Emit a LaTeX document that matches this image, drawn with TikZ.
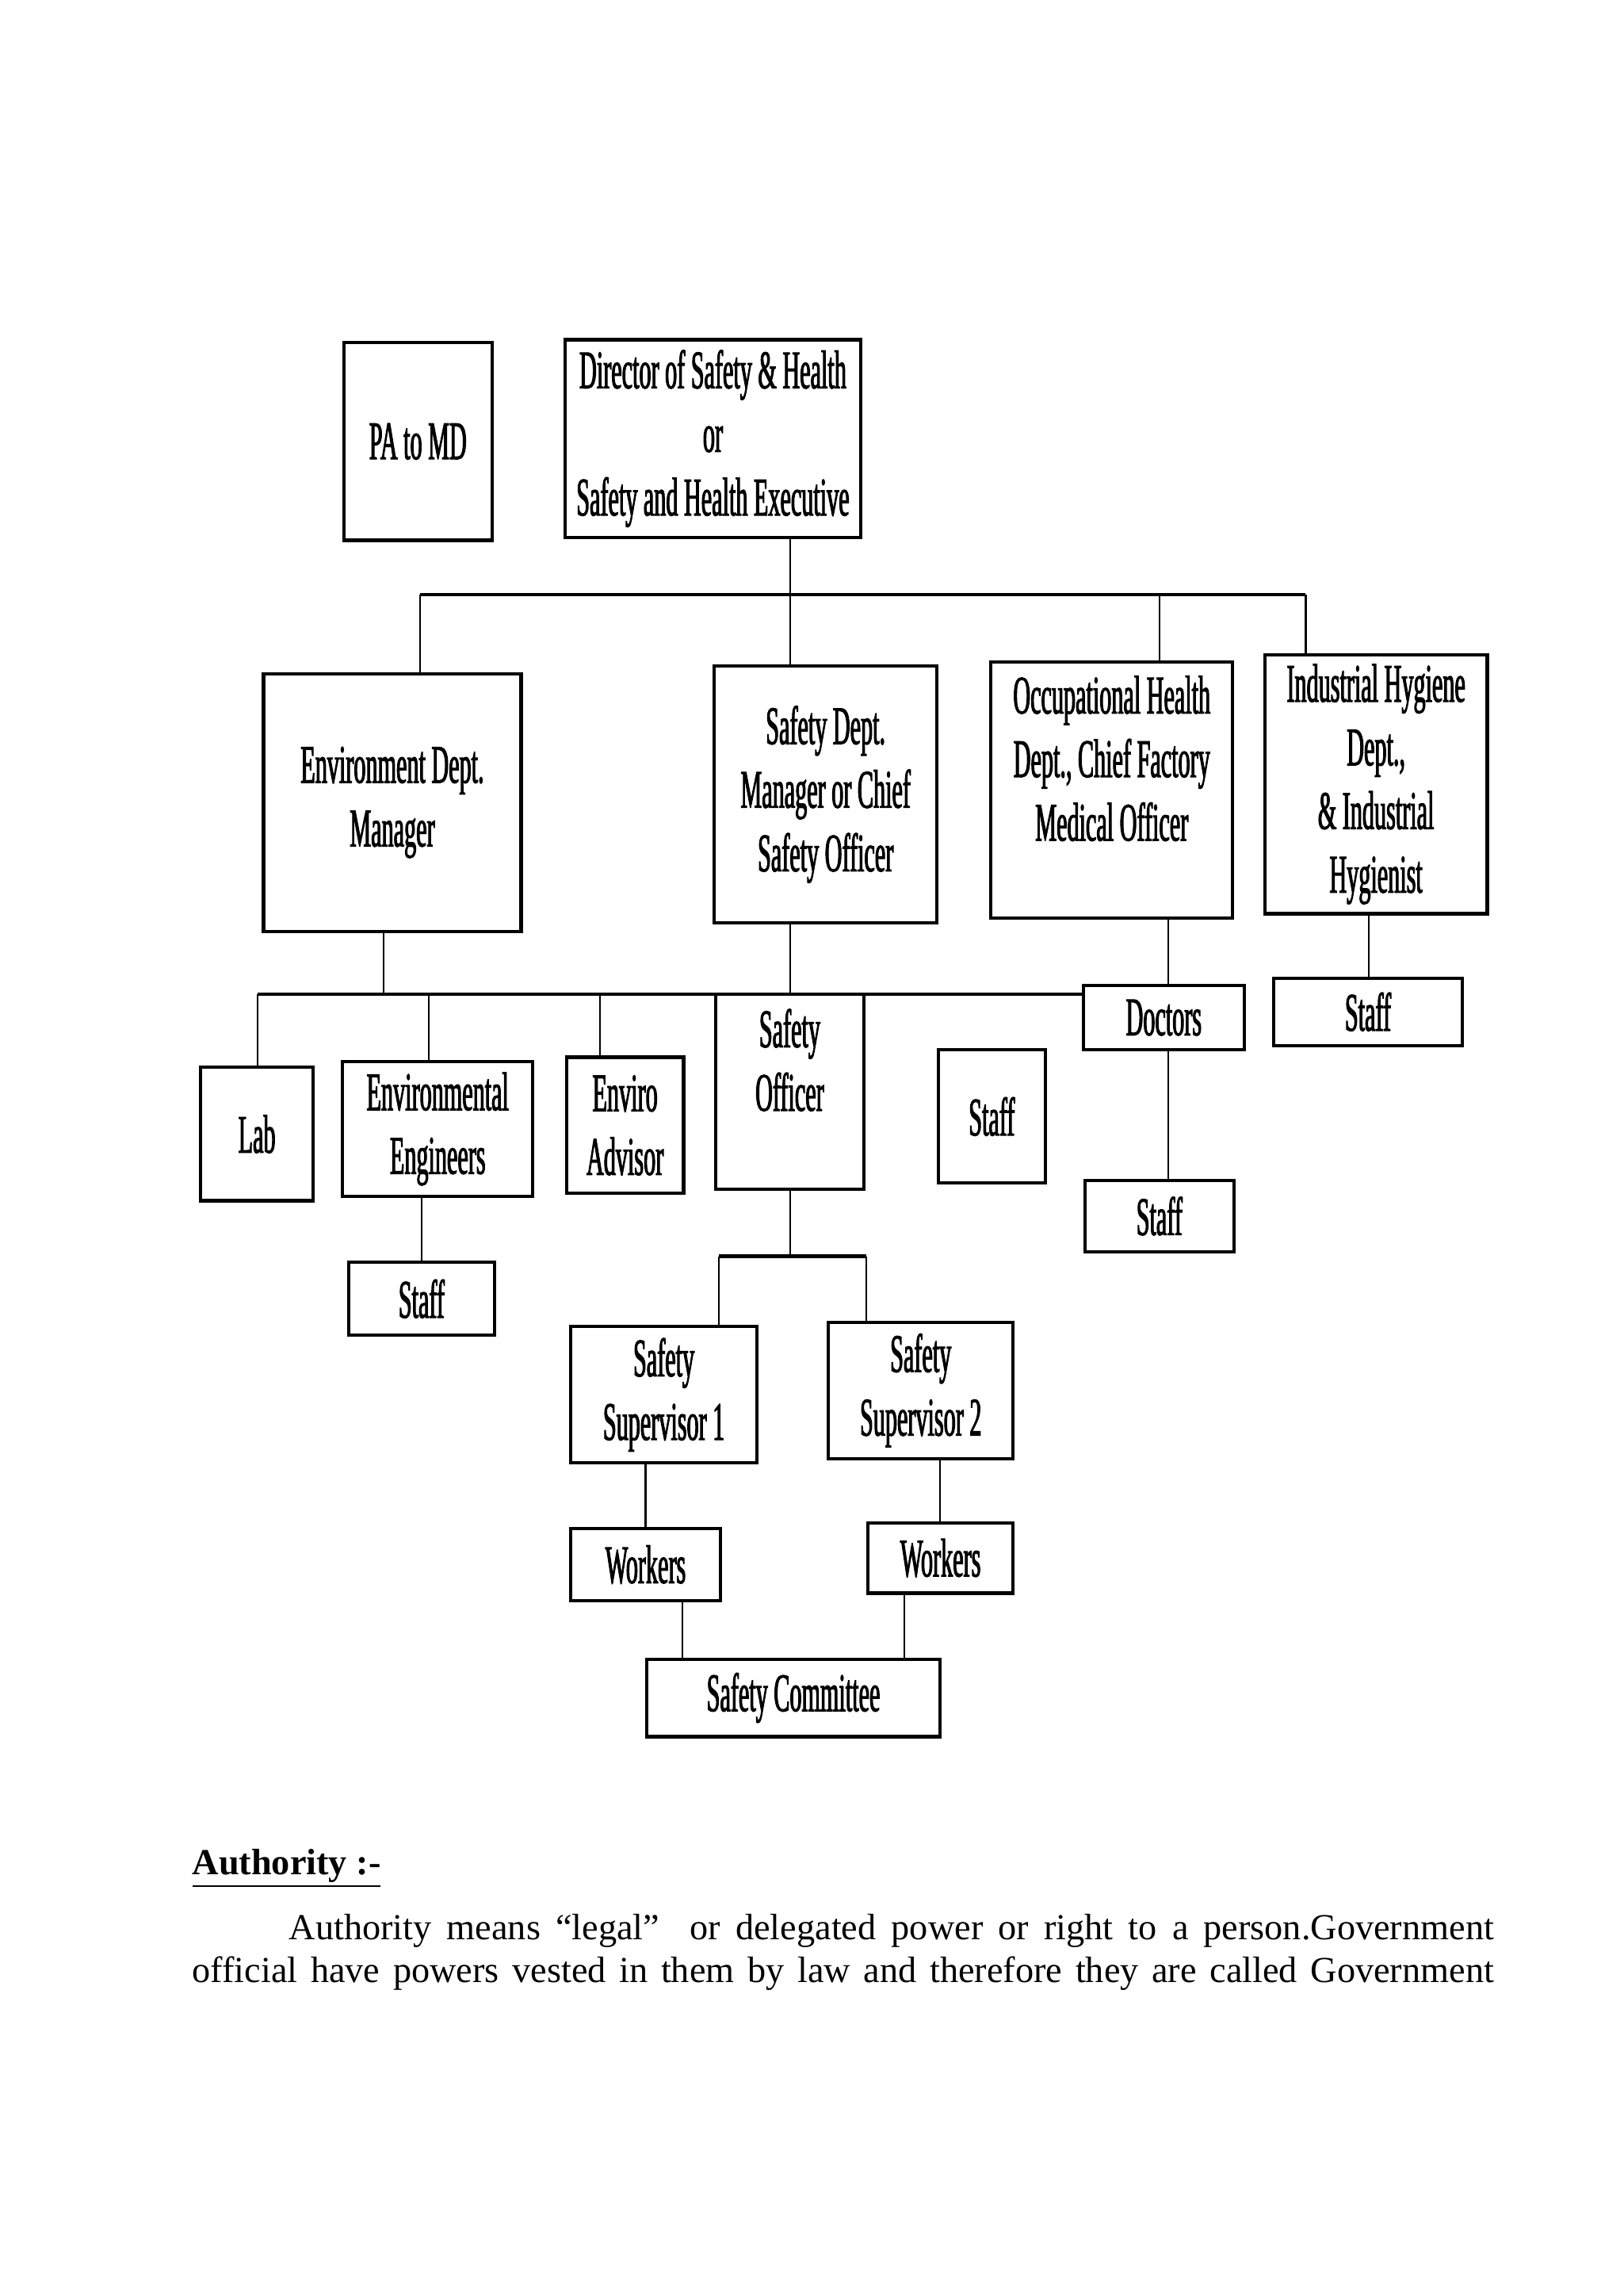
\documentclass[tikz,border=0pt]{standalone}
\usepackage{fontspec}
\setmainfont{Liberation Serif}
\newfontfamily\orgfont[FakeStretch=0.44,FakeBold=1.5]{Liberation Serif}

\tikzset{
  orgbox/.style={draw, line width=1.2pt, inner sep=0pt, align=center,
    font=\orgfont\fontsize{20}{23.4}\selectfont},
  boxsize/.style 2 args={minimum width=#1*0.5387pt, minimum height=#2*0.5387pt},
  link/.style={line width=0.6pt},
  bus/.style={line width=1.3pt},
}

\begin{document}
\begin{tikzpicture}[x=0.5387pt,y=0.5387pt,yscale=-1,xscale=1]
\useasboundingbox (0,0) rectangle (1109,1568);

%Top row
\node[orgbox, boxsize={101}{135}] (pamd) at (285.5,301.5) {PA to MD};
\node[orgbox, boxsize={202}{135}] (director) at (487,299.5) {Director of Safety \& Health\\or\\Safety and Health Executive};

%Departments
\node[orgbox, boxsize={176}{176}] (envmgr) at (268,548) {Environment Dept.\\Manager};
\node[orgbox, boxsize={152}{175}] (safetymgr) at (564,542.5) {Safety Dept.\\Manager or Chief\\Safety Officer};
\node[orgbox, boxsize={165}{175}] (ohdept) at (759.5,539.5) {Occupational Health\\Dept., Chief Factory\\Medical Officer\\\mbox{}};
\node[orgbox, boxsize={152}{177}] (ihdept) at (940,535.5) {Industrial Hygiene\\Dept.,\\\& Industrial\\Hygienist};

%Third row
\node[orgbox, boxsize={77}{91}] (lab) at (175.5,774.5) {Lab};
\node[orgbox, boxsize={130}{92}] (enveng) at (299,771) {Environmental\\Engineers};
\node[orgbox, boxsize={80}{93}] (advisor) at (427,768.5) {Enviro\\Advisor};
\node[orgbox, boxsize={101}{133}] (safeofficer) at (539.5,745.5) {Safety\\Officer\\\mbox{}};
\node[orgbox, boxsize={73}{91}] (staffmid) at (677.5,762.5) {Staff};
\node[orgbox, boxsize={110}{44}] (doctors) at (795,695) {Doctors};
\node[orgbox, boxsize={129}{46}] (ihstaff) at (934.5,691) {Staff};
\node[orgbox, boxsize={102}{49}] (docstaff) at (792,830.5) {Staff};
\node[orgbox, boxsize={100}{50}] (envstaff) at (288,887) {Staff};

%Supervisors and below
\node[orgbox, boxsize={127}{93}] (supone) at (453.5,952.5) {Safety\\Supervisor 1};
\node[orgbox, boxsize={126}{93}] (suptwo) at (629,949.5) {Safety\\Supervisor 2};
\node[orgbox, boxsize={102}{49}] (workone) at (441,1068.5) {Workers};
\node[orgbox, boxsize={99}{48}] (worktwo) at (642.5,1064) {Workers};
\node[orgbox, boxsize={200}{53}] (committee) at (542,1159.5) {Safety Committee};

%Bus under director
\coordinate (topl) at (287,406);
\coordinate (topm) at (540,406);
\coordinate (topo) at (792,406);
\coordinate (topr) at (892,406);
\draw[bus] (topl) -- (topr);
\draw[link] (topm |- director.south) -- (topm |- safetymgr.north);
\draw[link] (topl) -- (topl |- envmgr.north);
\draw[link] (topo) -- (topo |- ohdept.north);
\draw[link] (topr) -- (topr |- ihdept.north);

%Bus under departments
\coordinate (midl) at (176,679);
\coordinate (mide) at (262,679);
\coordinate (midg) at (293,679);
\coordinate (mida) at (410,679);
\draw[bus] (midl) -- (midl -| doctors.west);
\draw[link] (mide |- envmgr.south) -- (mide);
\draw[link] (midl) -- (midl |- lab.north);
\draw[link] (midg) -- (midg |- enveng.north);
\draw[link] (mida) -- (mida |- advisor.north);
\draw[link] (topm |- safetymgr.south) -- (topm |- safeofficer.north);

%Single drops
\coordinate (ohline) at (798,650);
\coordinate (ihline) at (935,640);
\coordinate (engline) at (288,840);
\draw[link] (ohline |- ohdept.south) -- (ohline |- doctors.north);
\draw[link] (ohline |- doctors.south) -- (ohline |- docstaff.north);
\draw[link] (ihline |- ihdept.south) -- (ihline |- ihstaff.north);
\draw[link] (engline |- enveng.south) -- (engline |- envstaff.north);

%Bus under safety officer
\coordinate (lowl) at (491,858);
\coordinate (lowr) at (592,858);
\draw[bus] (lowl) -- (lowr);
\draw[link] (topm |- safeofficer.south) -- (topm |- lowl);
\draw[link] (lowl) -- (lowl |- supone.north);
\draw[link] (lowr) -- (lowr |- suptwo.north);

%Workers and committee
\coordinate (wone) at (441,1020);
\coordinate (wtwo) at (642,1020);
\coordinate (cone) at (466,1110);
\coordinate (ctwo) at (618,1110);
\draw[link] (wone |- supone.south) -- (wone |- workone.north);
\draw[link] (wtwo |- suptwo.south) -- (wtwo |- worktwo.north);
\draw[link] (cone |- workone.south) -- (cone |- committee.north);
\draw[link] (ctwo |- worktwo.south) -- (ctwo |- committee.north);

% Text Node
\node[anchor=base west, inner sep=0pt, font=\fontsize{13.5}{15.6}\selectfont\bfseries] (heading) at (131,1280) {\underline{Authority :-}};
% Text Node
\node[anchor=north west, inner sep=0pt, text width=479pt, align=justify, font=\fontsize{13.5}{15.6}\selectfont] (para) at (131,1307)
  {\hspace*{35.6pt}Authority means “legal”\ \ or delegated power or right to a person.Government\linebreak official have powers vested in them by law and therefore they are called Government\parfillskip=0pt\par};
\end{tikzpicture}
\end{document}
